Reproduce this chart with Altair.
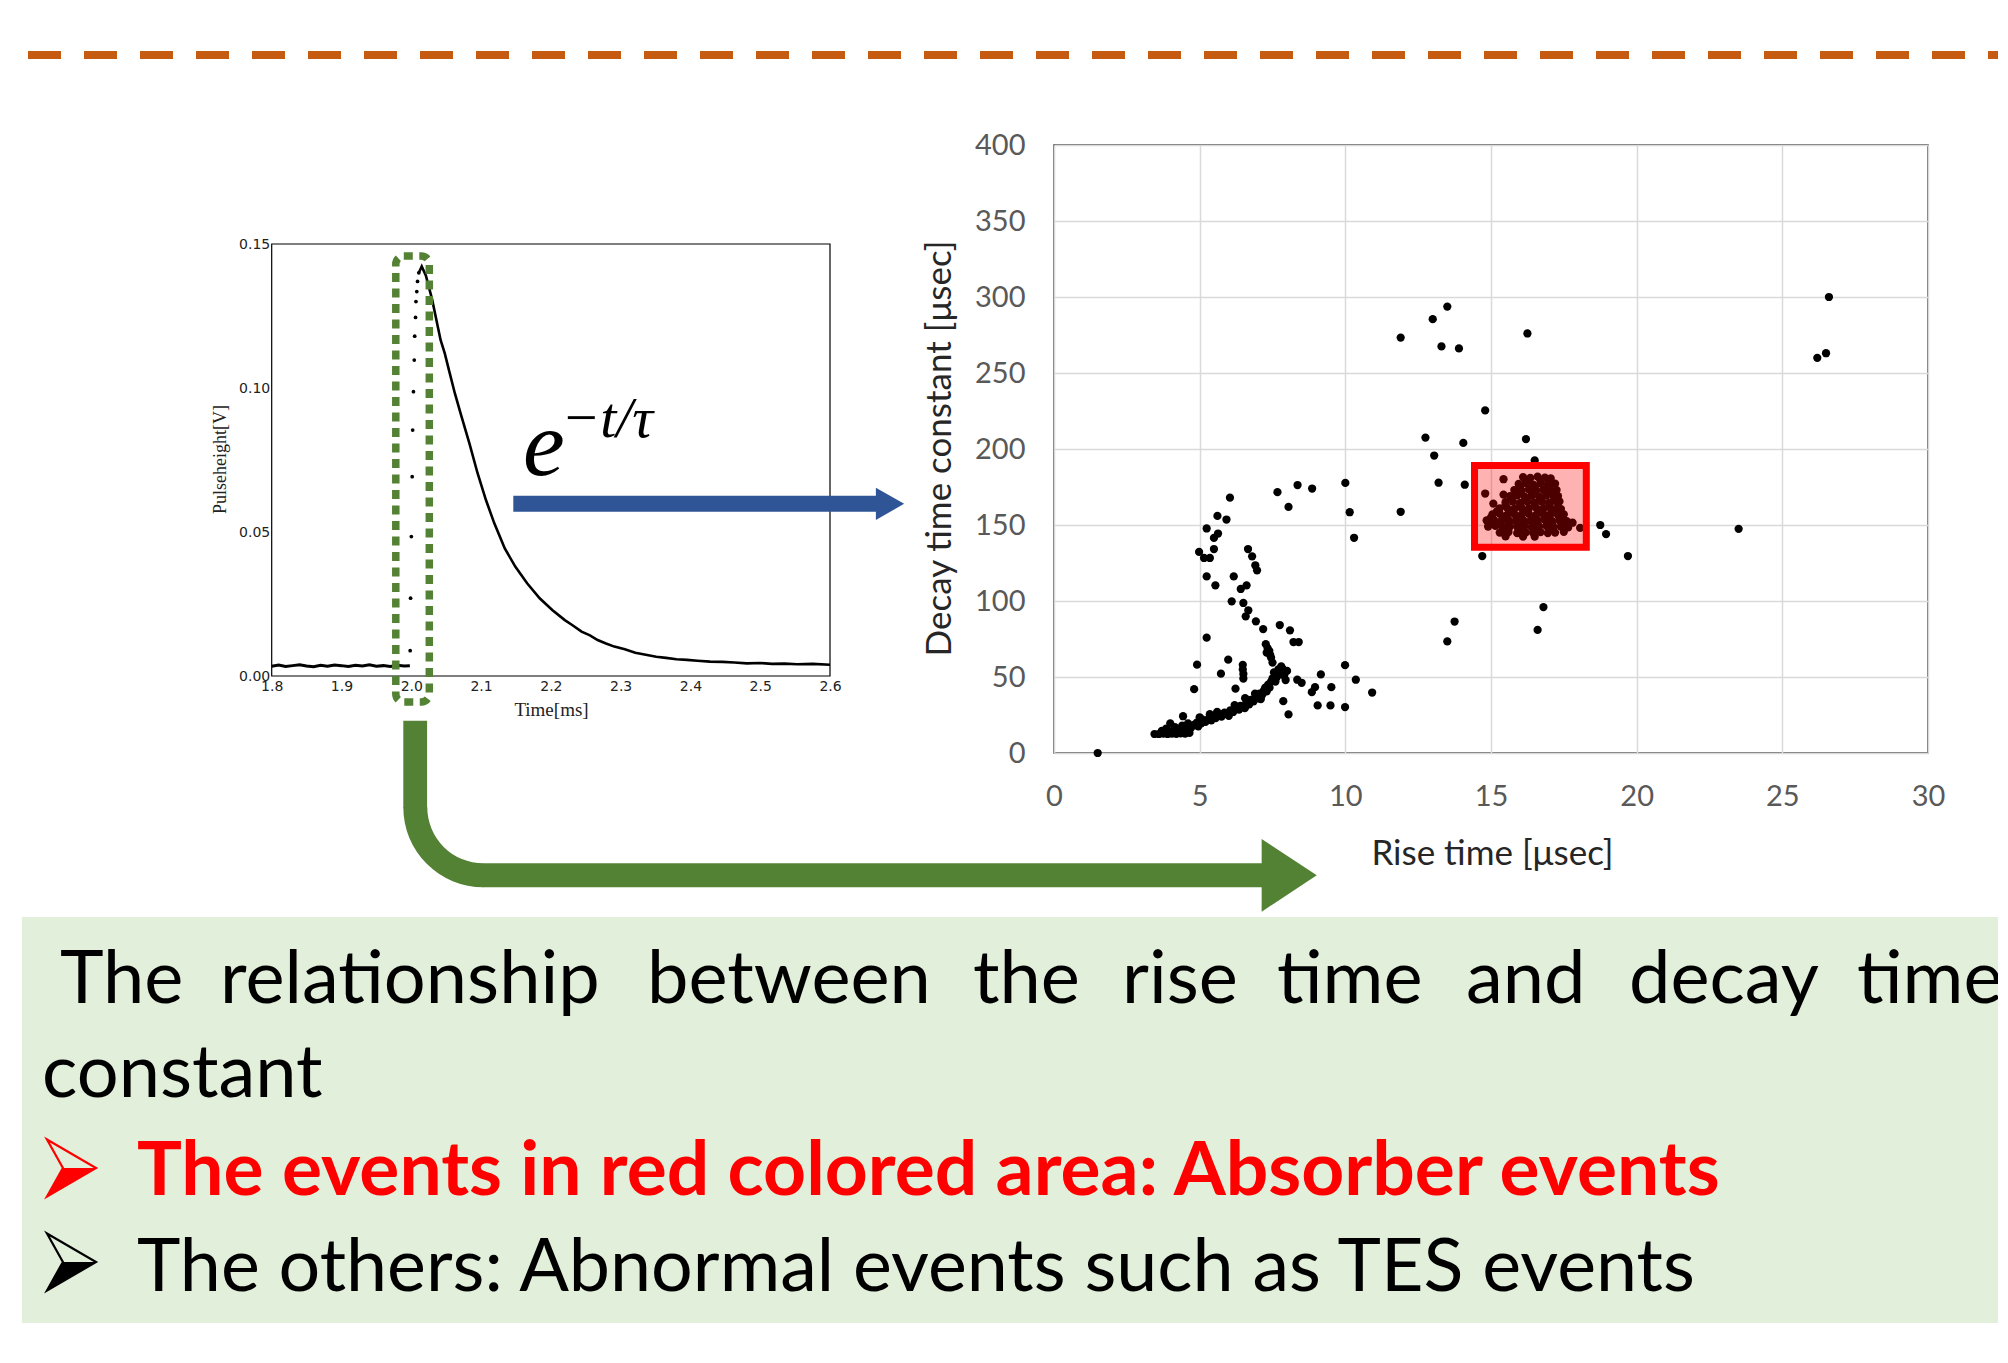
import math
import altair as alt
import pandas as pd

# ---------------- data ----------------
# Pulse waveform: Time [ms] vs Pulseheight [V]
base_time = [1.800, 1.810, 1.820, 1.830, 1.840, 1.850, 1.860, 1.870, 1.880, 1.890, 1.900,
             1.910, 1.920, 1.930, 1.940, 1.950, 1.960, 1.970, 1.980, 1.990, 1.998]
base_height = [0.0034, 0.0038, 0.0033, 0.0036, 0.0039, 0.0035, 0.0032, 0.0037, 0.0034, 0.0038, 0.0036,
               0.0033, 0.0037, 0.0035, 0.0039, 0.0034, 0.0036, 0.0033, 0.0037, 0.0035, 0.0036]
rise_time_ms = [1.9984, 1.9990, 2.0001, 2.0013, 2.0020, 2.0031, 2.0043, 2.0049, 2.0061, 2.0067, 2.0079, 2.0090, 2.0108]
rise_height = [0.0088, 0.0270, 0.0484, 0.0692, 0.0854, 0.0987, 0.1097, 0.1180, 0.1245, 0.1300, 0.1335, 0.1370, 0.1400]
decay_time = [2.0108, 2.0150, 2.0210, 2.0300, 2.0360, 2.0420, 2.0480, 2.0540, 2.0625, 2.0714, 2.0833,
              2.0950, 2.1070, 2.1190, 2.1340, 2.1490, 2.1660, 2.1840, 2.2020, 2.2200, 2.2300, 2.2440,
              2.2560, 2.2670, 2.2790, 2.2910, 2.3060, 2.3210, 2.3360, 2.3510, 2.3650, 2.3800, 2.3950,
              2.4100, 2.4280, 2.4460, 2.4630, 2.4810, 2.5000, 2.5170, 2.5350, 2.5530, 2.5750, 2.6000]
decay_height = [0.1400, 0.1422, 0.1390, 0.1306, 0.1236, 0.1167, 0.1120, 0.1062, 0.0981, 0.0906, 0.0808,
                0.0704, 0.0611, 0.0530, 0.0443, 0.0380, 0.0322, 0.0270, 0.0229, 0.0194, 0.0178, 0.0154,
                0.0141, 0.0125, 0.0113, 0.0102, 0.0093, 0.0081, 0.0074, 0.0067, 0.0063, 0.0058, 0.0056,
                0.0053, 0.0050, 0.0049, 0.0047, 0.0044, 0.0045, 0.0042, 0.0043, 0.0041, 0.0042, 0.0039]

# Scatter: (Rise time [usec], Decay time constant [usec])
outlier_pts = [(1.5, 0), (26.6, 300), (26.2, 260), (26.5, 263), (23.5, 147.5), (19.7, 129.6),
               (18.75, 150), (18.95, 144), (16.8, 96), (16.6, 81), (16.25, 276), (16.2, 206.5),
               (16.5, 192.5), (14.8, 225.4), (14.7, 129.6), (13.5, 293.7), (13.0, 285.4), (13.3, 267.5),
               (13.9, 266.2), (11.9, 273.3), (12.75, 207.5), (13.05, 195.7), (14.05, 204), (13.2, 177.8),
               (14.1, 176.5), (11.9, 158.7), (13.75, 86.5), (13.5, 73.4)]
mid_pts = [(10.0, 177.7), (10.15, 158.4), (10.3, 141.6), (8.86, 174.0), (8.36, 176.3), (7.67, 171.6),
           (8.05, 161.9), (9.99, 57.8), (10.36, 48.2), (10.92, 39.8), (9.99, 30.2), (9.49, 31.3),
           (9.05, 31.3), (9.52, 43.3), (9.16, 51.7), (8.96, 43.3), (8.85, 40.0), (8.5, 46.2),
           (8.35, 48.2), (8.05, 25.4), (7.87, 34.1), (7.75, 84.2), (8.1, 80.7), (8.22, 73.0), (8.4, 73.0)]
s_curve_pts = [(6.04, 168.0), (5.61, 156.0), (5.92, 153.6), (5.24, 147.7), (5.63, 144.4), (5.49, 141.5),
               (4.98, 132.3), (5.15, 128.3), (5.35, 128.3), (5.49, 134.2), (5.24, 116.2), (5.54, 110.3),
               (6.17, 116.2), (6.61, 110.3), (6.41, 107.9), (6.66, 134.2), (6.8, 129.4), (6.91, 123.5),
               (6.97, 120.2), (6.1, 99.8), (6.5, 98.7), (6.67, 93.9), (6.58, 89.9), (6.93, 86.6), (7.18, 81.5)]
low_pts = [(5.24, 75.9), (4.91, 58.1), (4.81, 42.0), (5.98, 61.4), (5.73, 52.2), (6.48, 58.0), (6.48, 55.0),
           (6.5, 52.0), (6.5, 49.0), (6.23, 42.3), (6.56, 36.1), (4.43, 24.2), (7.27, 71.6), (7.33, 69.0),
           (7.39, 67.2), (7.42, 64.5), (7.45, 62.8), (7.5, 59.5), (7.3, 66.0), (7.55, 53.0), (7.7, 55.0),
           (7.85, 55.3), (7.75, 52.0), (7.9, 51.0), (8.0, 54.0), (7.65, 50.0), (7.8, 57.0), (7.95, 48.0),
           (7.6, 47.0)]
band_pts = [(3.45, 12.5), (3.6, 12.5), (3.75, 12.8), (3.9, 12.5), (4.05, 12.8), (4.2, 12.6), (4.35, 12.9),
            (4.5, 12.7), (4.65, 13.2), (3.7, 14.5), (3.85, 16.0), (3.99, 19.5), (4.1, 15.0), (4.3, 14.8),
            (4.5, 15.5), (4.7, 16.5), (4.8, 18.5), (4.95, 17.5), (4.9, 20.0), (5.05, 19.5), (5.1, 22.0),
            (5.2, 20.5), (5.3, 22.5), (5.4, 21.5), (5.45, 24.0), (5.55, 23.0), (5.65, 25.0), (5.75, 24.0),
            (5.85, 26.5), (5.95, 25.5), (6.05, 28.0), (6.15, 27.0), (6.25, 29.5), (6.35, 28.5), (6.4, 31.0),
            (6.5, 30.5), (6.6, 33.0), (6.7, 32.0), (6.75, 35.0), (6.85, 34.0), (6.95, 37.0), (7.0, 36.0),
            (7.05, 39.0), (7.15, 38.5), (7.2, 41.0), (7.25, 43.0), (7.3, 40.5), (7.35, 45.0), (7.4, 43.0),
            (7.45, 47.0), (7.5, 49.0), (4.6, 19.5), (5.0, 23.5), (5.6, 27.0), (6.2, 31.5), (6.9, 39.0),
            (4.15, 17.0), (4.4, 18.0), (5.35, 25.5), (6.0, 24.5), (6.55, 29.5), (7.1, 35.5)]
absorber_pts = [(16.1, 181.5), (16.35, 181), (16.6, 181.8), (16.85, 181.2), (17.05, 180.6),
                (15.95, 177), (16.2, 177.5), (16.45, 176.6), (16.7, 177.4), (16.95, 176.8), (17.2, 177.2),
                (15.8, 173), (16.05, 172.6), (16.3, 173.4), (16.55, 172.8), (16.8, 173.2), (17.05, 172.5), (17.25, 173),
                (15.65, 169), (15.9, 169.5), (16.15, 168.6), (16.4, 169.2), (16.65, 168.8), (16.9, 169.4), (17.15, 168.7), (17.3, 169),
                (15.5, 165), (15.75, 165.4), (16.0, 164.6), (16.25, 165.2), (16.5, 164.8), (16.75, 165.3), (17.0, 164.7), (17.25, 165), (17.35, 165.5),
                (15.3, 161), (15.55, 161.4), (15.8, 160.6), (16.05, 161.2), (16.3, 160.8), (16.55, 161.3), (16.8, 160.7), (17.05, 161), (17.3, 161.4), (17.4, 160.5),
                (15.05, 157), (15.3, 157.4), (15.55, 156.6), (15.8, 157.2), (16.05, 156.8), (16.3, 157.3), (16.55, 156.7), (16.8, 157), (17.05, 157.4), (17.3, 156.6), (17.5, 157),
                (14.85, 153), (15.1, 153.4), (15.35, 152.6), (15.6, 153.2), (15.85, 152.8), (16.1, 153.3), (16.35, 152.7), (16.6, 153), (16.85, 153.4), (17.1, 152.6), (17.35, 153), (17.6, 152.5), (17.8, 151.5),
                (14.9, 149), (15.15, 149.4), (15.4, 148.6), (15.65, 149.2), (15.9, 148.8), (16.15, 149.3), (16.4, 148.7), (16.65, 149), (16.9, 149.4), (17.15, 148.6), (17.4, 149), (17.65, 148.4),
                (15.3, 145), (15.6, 145.4), (15.9, 144.6), (16.2, 145.2), (16.45, 144.8), (16.7, 145.3), (16.95, 144.7), (17.2, 145), (17.5, 145.5),
                (16.2, 179.2), (16.7, 179.4), (16.0, 175), (16.5, 175.2), (17.0, 174.8), (15.9, 171), (16.4, 171.2), (16.9, 171),
                (15.7, 167), (16.2, 167.2), (16.7, 167), (17.2, 166.8), (15.5, 163), (16.0, 163.2), (16.5, 163), (17.0, 163.2),
                (15.2, 159), (15.7, 159.2), (16.2, 159), (16.7, 159.2), (17.2, 158.8), (15.0, 155), (15.5, 155.2), (16.0, 155),
                (16.5, 155.2), (17.0, 155), (17.45, 154.8), (15.1, 151), (15.6, 151.2), (16.1, 151), (16.6, 151.2), (17.1, 151),
                (17.55, 150.6), (15.5, 147), (16.0, 147.2), (16.5, 147), (17.0, 147.2),
                (15.43, 180.1), (14.8, 170.7), (15.43, 170.0), (15.08, 164.1), (18.06, 148.1),
                (15.5, 142.5), (16.1, 142.3), (16.5, 142.3)]

x_ticks = [0, 5, 10, 15, 20, 25, 30]
y_ticks = [0, 50, 100, 150, 200, 250, 300, 350, 400]
pulse_x_ticks = [1.8, 1.9, 2.0, 2.1, 2.2, 2.3, 2.4, 2.5, 2.6]
pulse_y_ticks = [0.0, 0.05, 0.10, 0.15]

line1_words = ["The", "relationship", "between", "the", "rise", "time", "and", "decay", "time"]

# ---------------- layout ----------------
W, H = 874, 608
PAD_L, PAD_T, PAD_R, PAD_B = 1046, 137, 70, 590
OX, OY = 8 + PAD_L, 8 + PAD_T


def fx(X):
    return X - OX


def fy(Y):
    return Y - OY


one = pd.DataFrame({"k": [0]})
GREEN = "#548235"
BLUE = "#2F5597"


def box(x1, y1, x2, y2, **kw):
    return alt.Chart(one).mark_rect(**kw).encode(
        x=alt.value(fx(x1)), x2=alt.value(fx(x2)), y=alt.value(fy(y1)), y2=alt.value(fy(y2)))


def label(text, X, Y, **kw):
    return alt.Chart(one).mark_text(text=text, align="left", baseline="alphabetic", **kw).encode(
        x=alt.value(fx(X)), y=alt.value(fy(Y)))


def head(cx, cy, w, h, color):
    r = w / h
    shape = f"M{-r:.4f},-1L{r:.4f},0L{-r:.4f},1Z"
    return alt.Chart(one).mark_point(shape=shape, filled=True, size=h * h, color=color,
                                     opacity=1, strokeWidth=0).encode(
        x=alt.value(fx(cx)), y=alt.value(fy(cy)))


def bullet(cx, cy, color):
    # 3-D arrowhead bullet: outlined upper face, filled lower face
    w, h = 49, 57
    r = w / h
    outline = f"M{-r:.3f},-1L{r:.3f},0L{-r:.3f},1L{-0.35 * r:.3f},0Z"
    lower = f"M{-0.35 * r:.3f},0L{r:.3f},0L{-r:.3f},1Z"
    a = alt.Chart(one).mark_point(shape=outline, filled=False, size=h * h, color=color,
                                  opacity=1, strokeWidth=2.2, strokeJoin="miter").encode(
        x=alt.value(fx(cx)), y=alt.value(fy(cy)))
    b = alt.Chart(one).mark_point(shape=lower, filled=True, size=h * h, color=color,
                                  opacity=1, strokeWidth=0).encode(
        x=alt.value(fx(cx)), y=alt.value(fy(cy)))
    return [a, b]


# background decorations
text_box = box(22, 917, 2010, 1323, color="#E2EFDA")
orange_line = alt.Chart(one).mark_rule(color="#C55A11", strokeWidth=8, strokeDash=[33, 23]).encode(
    x=alt.value(fx(-28)), x2=alt.value(fx(2010)), y=alt.value(fy(55)))

# ---------------- pulse plot ----------------
px_scale = alt.Scale(domain=[1.8, 2.6], range=[fx(271.7), fx(830)], nice=False, zero=False)
py_scale = alt.Scale(domain=[0, 0.15], range=[fy(676), fy(244)], nice=False, zero=False)
px_axis = alt.Axis(orient="bottom", offset=fy(676) - H, values=pulse_x_ticks, format=".1f",
                   grid=False, domain=False, ticks=False, labelFlush=False, labelOverlap=False,
                   labelFont="DejaVu Sans", labelFontSize=14, labelColor="#222222", labelPadding=3,
                   title="Time[ms]", titleFont="Liberation Serif", titleFontSize=19,
                   titleFontWeight="normal", titleColor="#222222", titleX=fx(551), titleY=33,
                   titleAlign="center", titleBaseline="middle")
py_axis = alt.Axis(orient="left", offset=-fx(271.7), values=pulse_y_ticks, format=".2f",
                   grid=False, domain=False, ticks=False, labelFlush=False, labelOverlap=False,
                   labelFont="DejaVu Sans", labelFontSize=14, labelColor="#222222", labelPadding=2,
                   title="Pulseheight[V]", titleFont="Liberation Serif", titleFontSize=18,
                   titleFontWeight="normal", titleColor="#222222", titleX=220 - 271.7,
                   titleY=fy(459), titleAngle=270, titleAlign="center", titleBaseline="middle")

base_df = pd.DataFrame({"t": base_time, "v": base_height})
rise_df = pd.DataFrame({"t": rise_time_ms, "v": rise_height})
decay_df = pd.DataFrame({"t": decay_time, "v": decay_height})

enc = dict(x=alt.X("t:Q", scale=px_scale, axis=px_axis), y=alt.Y("v:Q", scale=py_scale, axis=py_axis))
pulse = alt.layer(
    alt.Chart(base_df).mark_line(color="black", strokeWidth=3).encode(**enc),
    alt.Chart(decay_df).mark_line(color="black", strokeWidth=2.6).encode(**enc),
    alt.Chart(rise_df).mark_circle(color="black", size=14, opacity=1).encode(**enc),
)
pulse_frame = box(271.7, 244, 830, 676, fill="white", fillOpacity=0, stroke="black", strokeWidth=1.2)
green_box = box(395.8, 256, 429.3, 702, fill="white", fillOpacity=0, stroke=GREEN,
                strokeWidth=7.5, strokeDash=[9, 6.5], cornerRadius=8)

# ---------------- scatter plot ----------------
pts = outlier_pts + mid_pts + s_curve_pts + low_pts + band_pts + absorber_pts
scatter_df = pd.DataFrame({"rise": [p[0] for p in pts], "decay": [p[1] for p in pts]})
scatter = alt.Chart(scatter_df).mark_circle(color="black", size=68, opacity=1).encode(
    x=alt.X("rise:Q", scale=alt.Scale(domain=[0, 30], nice=False, zero=False),
            axis=alt.Axis(orient="bottom", values=x_ticks, grid=True, gridColor="#D9D9D9",
                          gridWidth=1.5, domain=False, ticks=False, labelFlush=False,
                          labelOverlap=False, labelFont="Lato", labelFontSize=29,
                          labelColor="#595959", labelPadding=29, title="Rise time [μsec]",
                          titleFont="Lato", titleFontSize=35, titleFontWeight="normal",
                          titleColor="#262626", titleX=438, titleY=100, titleAlign="center",
                          titleBaseline="middle")),
    y=alt.Y("decay:Q", scale=alt.Scale(domain=[0, 400], nice=False, zero=False),
            axis=alt.Axis(orient="left", values=y_ticks, grid=True, gridColor="#D9D9D9",
                          gridWidth=1.5, domain=False, ticks=False, labelFlush=False,
                          labelOverlap=False, labelFont="Lato", labelFontSize=29,
                          labelColor="#595959", labelPadding=29,
                          title="Decay time constant [μsec]", titleFont="Lato", titleFontSize=35,
                          titleFontWeight="normal", titleColor="#262626", titleX=-115,
                          titleY=303, titleAngle=270, titleAlign="center", titleBaseline="middle")),
)
red_rect = box(1474.5, 465.5, 1586.3, 547.3, fill="#FF0000", fillOpacity=0.3, stroke="#FF0000",
               strokeWidth=7)

# ---------------- arrows ----------------
blue_shaft = box(513.3, 495.7, 877, 511.7, color=BLUE)
blue_head = head(890, 503.8, 28.3, 32.3, BLUE)
green_vert = box(403.3, 720.7, 427.1, 808, color=GREEN)
green_arc = alt.Chart(one).mark_arc(color=GREEN).encode(
    x=alt.value(fx(483.3)), y=alt.value(fy(807.3)), theta=alt.value(math.pi),
    theta2=alt.value(1.5 * math.pi), radius=alt.value(80), radius2=alt.value(56))
green_horiz = box(482.5, 863.3, 1262.5, 887.3, color=GREEN)
green_head = head(1289.2, 875.3, 55.1, 72.7, GREEN)

# ---------------- texts ----------------
formula_e = label("e", 523, 475, font="Liberation Serif", fontStyle="italic", fontSize=94, color="black")
formula_sup = label("−t/τ", 561, 437, font="Liberation Serif", fontStyle="italic", fontSize=58, color="black")

word_x = [60, 220, 647, 973, 1122, 1277, 1466, 1629, 1857]
line1 = [label(w, X, 1003, font="Lato", fontSize=74, color="black") for w, X in zip(line1_words, word_x)]
line2 = label("constant", 42, 1097, font="Lato", fontSize=74, color="black")
bullets3 = bullet(71.5, 1168, "#FF0000")
line3 = label("The events in red colored area: Absorber events", 137, 1195, font="Lato",
              fontSize=75, fontWeight="bold", color="#FF0000")
bullets4 = bullet(71.5, 1262, "black")
line4 = label("The others: Abnormal events such as TES events", 137, 1291, font="Lato",
              fontSize=73.6, color="black")

chart = alt.layer(
    text_box, orange_line, pulse, pulse_frame, green_box, scatter, red_rect,
    blue_shaft, blue_head, green_vert, green_arc, green_horiz, green_head,
    formula_e, formula_sup, *line1, line2, *bullets3, line3, *bullets4, line4,
).resolve_scale(x="independent", y="independent").properties(
    width=W, height=H,
    padding={"left": PAD_L, "top": PAD_T, "right": PAD_R, "bottom": PAD_B},
    autosize=alt.AutoSizeParams(type="none"),
    background="white",
).configure_view(stroke="#404040", strokeWidth=1.5)

chart.save("out.html", embed_options={"renderer": "svg", "actions": False})
